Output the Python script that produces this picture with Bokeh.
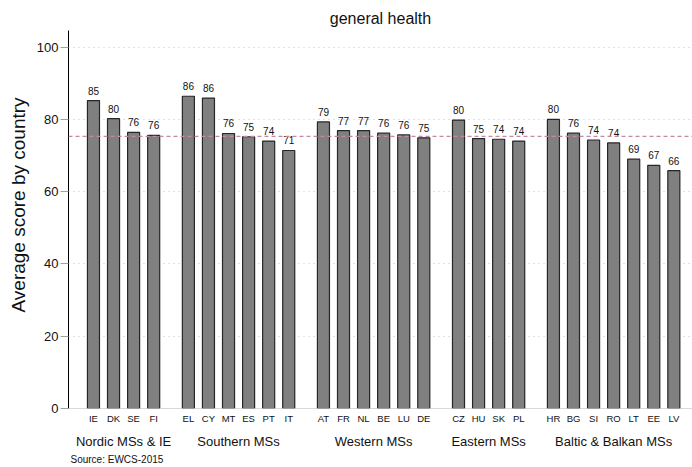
from bokeh.plotting import figure
from bokeh.models import (ColumnDataSource, FixedTicker, LinearAxis, Span, Title, Range1d)
from bokeh.core.properties import value
from bokeh.embed import file_html
from bokeh.resources import INLINE

# ---- data ----
groups = ["Nordic MSs & IE", "Southern MSs", "Western MSs", "Eastern MSs", "Baltic & Balkan MSs"]
nordic_countries = ["IE", "DK", "SE", "FI"]
nordic_values = [85.2, 80.2, 76.4, 75.6]
southern_countries = ["EL", "CY", "MT", "ES", "PT", "IT"]
southern_values = [86.4, 85.9, 76.1, 75.2, 74.0, 71.4]
western_countries = ["AT", "FR", "NL", "BE", "LU", "DE"]
western_values = [79.3, 76.9, 76.9, 76.2, 75.7, 74.9]
eastern_countries = ["CZ", "HU", "SK", "PL"]
eastern_values = [79.8, 74.7, 74.5, 74.0]
baltic_countries = ["HR", "BG", "SI", "RO", "LT", "EE", "LV"]
baltic_values = [80.0, 76.2, 74.3, 73.5, 69.0, 67.3, 65.8]
eu_mean = 75.3
y_ticks = [0, 20, 40, 60, 80, 100]

group_countries = [nordic_countries, southern_countries, western_countries, eastern_countries, baltic_countries]
group_values = [nordic_values, southern_values, western_values, eastern_values, baltic_values]

# ---- positions (layout) ----
GAP = 1.73
xs, codes, vals, group_centers = [], [], [], []
pos = 0.0
for cs, vs in zip(group_countries, group_values):
    start = pos
    for c, v in zip(cs, vs):
        xs.append(round(pos, 4)); codes.append(c); vals.append(v)
        pos += 1.0
    group_centers.append(round((start + pos - 1.0) / 2.0, 4))
    pos += GAP - 1.0

src = ColumnDataSource(dict(x=xs, top=vals, label=[str(int(round(v))) for v in vals]))

FONT = "Liberation Sans"
TXT = "#111111"

p = figure(width=692, height=467, output_backend="svg", toolbar_location=None,
           x_range=Range1d(-1.244, 29.85), y_range=Range1d(0, 104.6),
           min_border_left=67, min_border_right=0, min_border_top=30, min_border_bottom=59)
p.outline_line_color = None
p.background_fill_color = "white"
p.border_fill_color = "white"

p.title.text = "general health"
p.title.align = "center"
p.title.text_font = FONT
p.title.text_font_size = "16px"
p.title.text_font_style = "normal"
p.title.text_color = TXT
p.title.standoff = 8

# grid
p.xgrid.grid_line_color = None
p.ygrid.ticker = FixedTicker(ticks=y_ticks[1:])
p.ygrid.grid_line_color = "#c4c4c4"
p.ygrid.grid_line_dash = "1 4"
p.ygrid.grid_line_width = 1

zero = Span(location=0, dimension="width", line_color="#b4b4b4", line_width=1)
p.add_layout(zero)

# bars
p.vbar(x="x", top="top", bottom=0, width=0.6, source=src,
       fill_color="#808080", line_color="#262626", line_width=1.2)

# mean line
mean = Span(location=eu_mean, dimension="width", line_color="#c48aa4",
            line_dash="4 3", line_width=1.2)
p.add_layout(mean)

# value labels
p.text(x="x", y="top", text="label", source=src, text_align="center",
       text_baseline="alphabetic", y_offset=-10, text_font_size="10px",
       text_font=value(FONT), text_color=TXT)

# y axis
ya = p.yaxis[0]
ya.ticker = FixedTicker(ticks=y_ticks)
ya.major_label_text_font = FONT
ya.major_label_text_font_size = "13px"
ya.major_label_text_color = TXT
ya.major_label_standoff = 2
ya.axis_line_color = "black"
ya.axis_line_width = 1
ya.major_tick_out = 8
ya.major_tick_in = 0
ya.major_tick_line_color = "#a0a0a0"
ya.minor_tick_line_color = None
ya.minor_tick_out = 0

ylab = Title(text="Average score by country", align="left", offset=96,
             text_font=FONT, text_font_size="19px", text_font_style="normal",
             text_color=TXT, standoff=10)
p.add_layout(ylab, "left")

# x axis: country codes
xa = p.xaxis[0]
xa.ticker = FixedTicker(ticks=xs)
xa.major_label_overrides = {x: c for x, c in zip(xs, codes)}
xa.axis_line_color = None
xa.major_tick_line_color = None
xa.minor_tick_line_color = None
xa.major_tick_out = 0
xa.minor_tick_out = 0
xa.major_label_text_font = FONT
xa.major_label_text_font_size = "9.5px"
xa.major_label_text_color = TXT
xa.major_label_standoff = 4

# second x axis: group names
ga = LinearAxis(ticker=FixedTicker(ticks=group_centers),
                major_label_overrides={c: g for c, g in zip(group_centers, groups)})
ga.axis_line_color = None
ga.major_tick_line_color = None
ga.minor_tick_line_color = None
ga.major_tick_out = 0
ga.minor_tick_out = 0
ga.major_label_text_font = FONT
ga.major_label_text_font_size = "13px"
ga.major_label_text_color = TXT
ga.major_label_standoff = 7
p.add_layout(ga, "below")

src_title = Title(text="Source: EWCS-2015", align="left", text_font=FONT,
                  text_font_size="10px", text_font_style="normal",
                  text_color=TXT, offset=2, standoff=1)
p.add_layout(src_title, "below")

open("out.html", "w").write(file_html(p, INLINE))
